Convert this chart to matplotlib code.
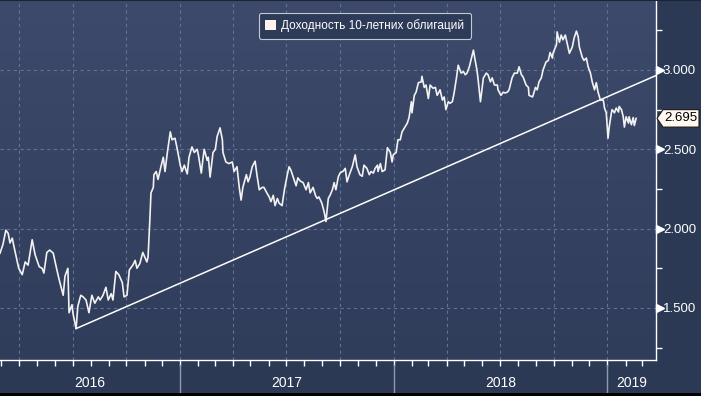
import numpy as np
import pandas as pd
import matplotlib
matplotlib.use("Agg")
import matplotlib.pyplot as plt
import matplotlib.dates as mdates
import matplotlib.transforms as mtransforms
from matplotlib.patches import Polygon, Patch, Rectangle
from matplotlib.colors import LinearSegmentedColormap

# ---------------- data ----------------
days_2016 = ["02-28", "03-04", "03-09", "03-13", "03-16", "03-20", "03-23", "03-28", "03-31",
             "04-06", "04-11", "04-16", "04-23", "04-28", "05-05", "05-10", "05-13", "05-18",
             "05-23", "05-29", "06-03", "06-08", "06-15", "06-18", "06-23", "06-25", "06-30",
             "07-02", "07-07", "07-10", "07-15", "07-19", "07-24", "07-29", "08-03", "08-08",
             "08-14", "08-17", "08-22", "08-27", "08-31", "09-05", "09-08", "09-13", "09-18",
             "09-24", "09-27", "10-02", "10-06", "10-12", "10-16", "10-19", "10-24", "10-29",
             "11-05", "11-07", "11-10", "11-12", "11-16", "11-17", "11-21", "11-24", "11-29",
             "12-03", "12-06", "12-10", "12-15", "12-18", "12-23", "12-27"]
yield_2016 = [1.845, 1.90, 1.99, 1.97, 1.91, 1.94, 1.885, 1.80, 1.75,
              1.71, 1.79, 1.77, 1.93, 1.835, 1.76, 1.75, 1.72, 1.85,
              1.865, 1.845, 1.76, 1.68, 1.58, 1.70, 1.75, 1.47, 1.52,
              1.46, 1.37, 1.51, 1.58, 1.57, 1.55, 1.47, 1.58, 1.53,
              1.57, 1.55, 1.58, 1.63, 1.55, 1.59, 1.55, 1.73, 1.71,
              1.66, 1.57, 1.58, 1.74, 1.77, 1.80, 1.75, 1.78, 1.85,
              1.79, 1.82, 2.05, 2.225, 2.26, 2.34, 2.36, 2.31, 2.39,
              2.45, 2.36, 2.48, 2.61, 2.56, 2.57, 2.50]

days_2017 = ["01-01", "01-04", "01-08", "01-13", "01-16", "01-21", "01-25", "01-30", "02-01",
             "02-06", "02-09", "02-11", "02-16", "02-18", "02-21", "02-26", "03-02", "03-05",
             "03-10", "03-14", "03-15", "03-20", "03-25", "03-31", "04-03", "04-08", "04-12",
             "04-15", "04-18", "04-24", "04-27", "04-30", "05-04", "05-09", "05-12", "05-16",
             "05-21", "05-24", "05-29", "06-02", "06-05", "06-09", "06-12", "06-16", "06-19",
             "06-24", "06-28", "07-03", "07-06", "07-09", "07-13", "07-18", "07-21", "07-25",
             "07-30", "08-04", "08-08", "08-11", "08-16", "08-20", "08-23", "08-26", "08-31",
             "09-04", "09-07", "09-11", "09-14", "09-18", "09-21", "09-24", "09-28", "10-01",
             "10-05", "10-06", "10-10", "10-13", "10-17", "10-22", "10-27", "10-30", "11-04",
             "11-08", "11-11", "11-16", "11-20", "11-23", "11-27", "11-30", "12-04", "12-05",
             "12-09", "12-12", "12-17", "12-21", "12-26", "12-29", "12-31"]
yield_2017 = [2.40, 2.36, 2.40, 2.345, 2.45, 2.515, 2.48, 2.50, 2.465,
              2.35, 2.445, 2.50, 2.43, 2.45, 2.325, 2.48, 2.50, 2.58,
              2.635, 2.56, 2.48, 2.42, 2.41, 2.42, 2.36, 2.39, 2.255,
              2.18, 2.26, 2.34, 2.295, 2.325, 2.39, 2.425, 2.34, 2.245,
              2.26, 2.26, 2.225, 2.20, 2.17, 2.21, 2.145, 2.19, 2.16,
              2.145, 2.245, 2.34, 2.39, 2.37, 2.325, 2.27, 2.32, 2.30,
              2.29, 2.245, 2.29, 2.225, 2.26, 2.21, 2.19, 2.20, 2.16,
              2.105, 2.045, 2.19, 2.21, 2.245, 2.29, 2.245, 2.325, 2.35,
              2.36, 2.36, 2.38, 2.295, 2.34, 2.39, 2.465, 2.39, 2.34,
              2.33, 2.40, 2.38, 2.34, 2.36, 2.35, 2.38, 2.40, 2.36,
              2.41, 2.36, 2.37, 2.51, 2.48, 2.42, 2.465]

days_2018 = ["01-05", "01-08", "01-12", "01-15", "01-19", "01-24", "01-27", "01-31", "02-01",
             "02-05", "02-08", "02-12", "02-17", "02-18", "02-22", "02-25", "03-01", "03-04",
             "03-09", "03-13", "03-16", "03-21", "03-25", "03-28", "03-31", "04-04", "04-07",
             "04-11", "04-14", "04-18", "04-21", "04-26", "04-30", "05-03", "05-06", "05-10",
             "05-15", "05-17", "05-20", "05-23", "05-25", "05-29", "06-01", "06-03", "06-08",
             "06-11", "06-15", "06-18", "06-22", "06-27", "06-28", "07-03", "07-07", "07-10",
             "07-14", "07-17", "07-22", "07-26", "07-31", "08-03", "08-07", "08-10", "08-15",
             "08-19", "08-20", "08-26", "08-27", "08-31", "09-03", "09-06", "09-10", "09-13",
             "09-18", "09-22", "09-25", "09-29", "09-30", "10-06", "10-07", "10-11", "10-14",
             "10-17", "10-21", "10-24", "10-28", "11-02", "11-05", "11-09", "11-12", "11-14",
             "11-19", "11-22", "11-26", "11-29", "12-03", "12-06", "12-10", "12-13", "12-16",
             "12-20", "12-25", "12-27", "12-30"]
yield_2018 = [2.48, 2.56, 2.56, 2.61, 2.635, 2.665, 2.70, 2.80, 2.73,
              2.84, 2.86, 2.92, 2.925, 2.96, 2.89, 2.905, 2.82, 2.905,
              2.885, 2.89, 2.84, 2.875, 2.81, 2.83, 2.75, 2.80, 2.79,
              2.80, 2.855, 2.95, 3.03, 2.98, 2.99, 2.97, 2.98, 3.02,
              3.095, 3.125, 3.06, 3.00, 2.94, 2.80, 2.89, 2.95, 2.98,
              2.97, 2.925, 2.95, 2.905, 2.905, 2.875, 2.84, 2.86, 2.855,
              2.86, 2.875, 2.95, 2.98, 2.98, 3.02, 2.97, 2.955, 2.905,
              2.89, 2.84, 2.83, 2.84, 2.89, 2.875, 2.925, 2.95, 3.00,
              3.05, 3.06, 3.11, 3.075, 3.105, 3.16, 3.24, 3.175, 3.22,
              3.19, 3.22, 3.17, 3.105, 3.145, 3.20, 3.245, 3.21, 3.145,
              3.08, 3.06, 3.075, 3.02, 2.98, 2.925, 2.875, 2.92, 2.86,
              2.81, 2.81, 2.76, 2.73]

days_2019 = ["01-02", "01-04", "01-08", "01-09", "01-13", "01-16", "01-20", "01-21", "01-25",
             "01-28", "01-30", "02-02", "02-06", "02-07", "02-11", "02-14", "02-16", "02-19"]
yield_2019 = [2.57, 2.64, 2.735, 2.75, 2.73, 2.76, 2.735, 2.77, 2.75,
              2.705, 2.64, 2.705, 2.665, 2.705, 2.655, 2.70, 2.65, 2.695]

trend_dates = ["2016-07-07", "2019-03-25"]
trend_values = [1.37, 2.965]

series_label = "Доходность 10-летних облигаций"
last_label = "2.695"
last_value = 2.695
y_ticks = [1.5, 2.0, 2.5, 3.0]
y_tick_labels = ["1.500", "2.000", "2.500", "3.000"]
y_minor = [1.25, 1.75, 2.25, 2.75, 3.25]
year_labels = ["2016", "2017", "2018", "2019"]
x_start, x_end = "2016-02-28", "2019-03-25"
y_lo, y_hi = 1.172, 3.441

# ---------------- styling ----------------
FIG_BG = "#2b3955"
TOP_BG = "#3d4a6b"
BOT_BG = "#2f3c5a"
GRID = "#5d7498"
LINE = "#f2f2f2"

plt.rcParams["font.family"] = ["Liberation Sans", "DejaVu Sans"]

dates = pd.to_datetime([f"2016-{d}" for d in days_2016] + [f"2017-{d}" for d in days_2017]
                       + [f"2018-{d}" for d in days_2018] + [f"2019-{d}" for d in days_2019])
values = yield_2016 + yield_2017 + yield_2018 + yield_2019

W, H = 701, 396
fig = plt.figure(figsize=(W / 100, H / 100), dpi=100, facecolor=FIG_BG)
rect = [0, 36 / H, 656 / W, 360 / H]

# gradient background axes
bg = fig.add_axes(rect, zorder=0)
cmap = LinearSegmentedColormap.from_list("bg", [TOP_BG, BOT_BG])
bg.imshow(np.linspace(0, 1, 256).reshape(-1, 1), cmap=cmap, aspect="auto",
          extent=[0, 1, 0, 1])
bg.axis("off")

ax = fig.add_axes(rect, zorder=1)
ax.patch.set_alpha(0)

ax.plot(dates, values, color=LINE, lw=1.2, zorder=3)
ax.plot(pd.to_datetime(trend_dates), trend_values, color="white", lw=1.1, zorder=3)

xmin, xmax = pd.Timestamp(x_start), pd.Timestamp(x_end)
ax.set_xlim(xmin, xmax)
ax.set_ylim(y_lo, y_hi)

# spines
for s in ["left", "top"]:
    ax.spines[s].set_visible(False)
for s in ["right", "bottom"]:
    ax.spines[s].set_color("white")
    ax.spines[s].set_linewidth(1)

# x axis: quarterly grid, monthly ticks
ax.xaxis.set_major_locator(mdates.MonthLocator(bymonth=[1, 4, 7, 10]))
ax.xaxis.set_minor_locator(mdates.MonthLocator())
ax.tick_params(axis="x", which="both", length=4, width=1, color="white",
               direction="out", labelbottom=False)
ax.grid(axis="x", which="major", color=GRID, linestyle=(0, (3, 3)), lw=0.8)

# y axis on right
ax.yaxis.tick_right()
ax.set_yticks(y_ticks, y_tick_labels)
ax.set_yticks(y_minor, minor=True)
ax.tick_params(axis="y", which="major", length=0, pad=5, labelcolor="white",
               labelsize=9.5)
ax.tick_params(axis="y", which="minor", length=4, width=1, color="white")
ax.grid(axis="y", which="major", color=GRID, linestyle=(0, (3, 3)), lw=0.8)

trans_y = mtransforms.blended_transform_factory(ax.transAxes, ax.transData)
tri = trans_y + mtransforms.ScaledTranslation(3.5 / 100, 0, fig.dpi_scale_trans)
ax.plot([1.0] * len(y_ticks), y_ticks, ls="none", marker=">", ms=5.5, color="white",
        transform=tri, clip_on=False, zorder=4)

# last value tag
aw = 656.0
dy = 0.055
tag = Polygon([(1 + 1 / aw, last_value), (1 + 7 / aw, last_value + dy),
               (1 + 43 / aw, last_value + dy), (1 + 43 / aw, last_value - dy),
               (1 + 7 / aw, last_value - dy)], closed=True, transform=trans_y,
              facecolor="#fff8f0", edgecolor="#1a1a1a", lw=0.8, clip_on=False, zorder=5)
ax.add_patch(tag)
ax.text(1 + 25 / aw, last_value, last_label, transform=trans_y, ha="center", va="center",
        color="black", fontsize=9.5, zorder=6, clip_on=False)

# year labels and separators
trans_x = mtransforms.blended_transform_factory(ax.transData, ax.transAxes)
for lab in year_labels:
    y0 = max(pd.Timestamp(f"{lab}-01-01"), xmin)
    y1 = min(pd.Timestamp(f"{int(lab) + 1}-01-01"), xmax)
    mid = y0 + (y1 - y0) / 2
    ax.text(mid, -0.064, lab, transform=trans_x, ha="center", va="center",
            color="white", fontsize=10, clip_on=False)
    jan = pd.Timestamp(f"{lab}-01-01")
    if xmin < jan < xmax:
        ax.plot([jan, jan], [-0.014, -0.092], transform=trans_x, color="#8e9ab0",
                lw=1, clip_on=False)

# legend
leg = ax.legend(handles=[Patch(facecolor="#fff3f0", edgecolor="none")],
                labels=[series_label], loc="upper center",
                bbox_to_anchor=(365 / 656, 1 - 7 / 360), frameon=True, fancybox=True,
                facecolor="#2d3a58", edgecolor="#c4c8d0", framealpha=1, fontsize=8.5,
                labelcolor="white", handlelength=0.9, handleheight=0.9,
                handletextpad=0.45, borderpad=0.55)
leg.get_frame().set_linewidth(0.8)

# thin dark strips at top / bottom edges
fig.patches.append(Rectangle((0, 0), 1, 3 / H, transform=fig.transFigure,
                             facecolor="black", edgecolor="none"))
fig.patches.append(Rectangle((0, 1 - 1 / H), 1, 1 / H, transform=fig.transFigure,
                             facecolor="#1c2333", edgecolor="none"))

fig.savefig("out.png", dpi=100, facecolor=FIG_BG)
